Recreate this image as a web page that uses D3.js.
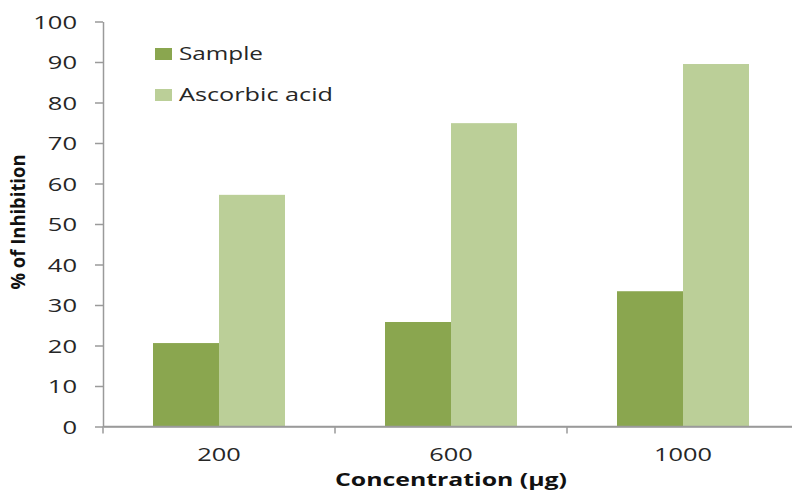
<!DOCTYPE html>
<html>
<head>
<meta charset="utf-8">
<script src="https://cdn.jsdelivr.net/npm/d3@7"></script>
<style>
  html, body { margin: 0; padding: 0; background: #fff; }
  svg { display: block; }
</style>
</head>
<body>
<svg id="chart" width="792" height="493"></svg>
<script>
const categories = ["200", "600", "1000"];
const seriesNames = ["Sample", "Ascorbic acid"];
const sampleValues = [20.6, 25.8, 33.4];
const ascorbicValues = [57.2, 74.9, 89.5];
const seriesColors = ["#8aa64f", "#bbcf98"];
const yTicks = [0, 10, 20, 30, 40, 50, 60, 70, 80, 90, 100];
const xTitle = "Concentration (µg)";
const yTitle = "% of Inhibition";

const seriesValues = [sampleValues, ascorbicValues];
const rows = categories.map((c, i) => ({
  category: c,
  values: seriesNames.map((s, j) => ({ series: s, value: seriesValues[j][i], color: seriesColors[j] }))
}));

const svg = d3.select("#chart");
const font = "'Open Sans', 'DejaVu Sans', sans-serif";
const axisColor = "#9a9a9a";
const textColor = "#262626";

const x = d3.scaleBand().domain(categories).range([103, 799]).paddingInner(0).paddingOuter(0);
const xInner = d3.scaleBand().domain(seriesNames).range([50, 182]);
const y = d3.scaleLinear().domain([0, 100]).range([426.5, 21.5]);

// Y axis
const yAxis = svg.append("g")
  .attr("transform", "translate(103,0)")
  .call(d3.axisLeft(y).tickValues(yTicks).tickSize(8).tickPadding(18).tickSizeOuter(0));
yAxis.select(".domain").attr("stroke", axisColor).attr("stroke-width", 1.5);
yAxis.selectAll(".tick line").attr("stroke", axisColor).attr("stroke-width", 1.5);
yAxis.selectAll(".tick text")
  .attr("fill", textColor)
  .attr("font-family", font)
  .attr("font-size", 19)
  .attr("dy", "0.36em")
  .attr("textLength", d => String(d).length * 14.6)
  .attr("lengthAdjust", "spacingAndGlyphs");

// X axis
const xAxis = svg.append("g")
  .attr("transform", `translate(0,${y(0)})`)
  .call(d3.axisBottom(x).tickSize(0).tickPadding(20).tickSizeOuter(0));
xAxis.select(".domain").attr("stroke", axisColor).attr("stroke-width", 1.5);
xAxis.selectAll(".tick text")
  .attr("fill", textColor)
  .attr("font-family", font)
  .attr("font-size", 19)
  .attr("dy", "0.75em")
  .attr("textLength", d => String(d).length * 14.5)
  .attr("lengthAdjust", "spacingAndGlyphs");

const boundaries = categories.map(c => x(c)).concat([x(categories[categories.length - 1]) + x.bandwidth()]);
xAxis.selectAll(".bound")
  .data(boundaries)
  .join("line")
  .attr("class", "bound")
  .attr("x1", d => d).attr("x2", d => d)
  .attr("y1", 0).attr("y2", 7)
  .attr("stroke", axisColor).attr("stroke-width", 1.5);

// Bars
const groups = svg.append("g").selectAll("g")
  .data(rows)
  .join("g")
  .attr("transform", d => `translate(${x(d.category)},0)`);
groups.selectAll("rect")
  .data(d => d.values)
  .join("rect")
  .attr("x", d => xInner(d.series))
  .attr("width", xInner.bandwidth())
  .attr("y", d => y(d.value))
  .attr("height", d => y(0) - y(d.value))
  .attr("fill", d => d.color);

// redraw baseline over bars
svg.append("line")
  .attr("x1", 103).attr("x2", 799)
  .attr("y1", y(0)).attr("y2", y(0))
  .attr("stroke", axisColor).attr("stroke-width", 1.5);

// Legend
const legendWidths = [84, 154];
const legend = svg.append("g").selectAll("g")
  .data(seriesNames)
  .join("g")
  .attr("transform", (d, i) => `translate(155,${48 + i * 41})`);
legend.append("rect")
  .attr("width", 17).attr("height", 12)
  .attr("fill", (d, i) => seriesColors[i]);
legend.append("text")
  .attr("x", 24).attr("y", 12)
  .attr("fill", textColor)
  .attr("font-family", font)
  .attr("font-size", 19)
  .attr("textLength", (d, i) => legendWidths[i])
  .attr("lengthAdjust", "spacingAndGlyphs")
  .text(d => d);

// Axis titles
svg.append("text")
  .attr("x", 451).attr("y", 486)
  .attr("text-anchor", "middle")
  .attr("fill", "#111")
  .attr("font-family", font)
  .attr("font-weight", "bold")
  .attr("font-size", 18)
  .attr("textLength", 232)
  .attr("lengthAdjust", "spacingAndGlyphs")
  .text(xTitle);

svg.append("text")
  .attr("transform", "translate(25,222) rotate(-90)")
  .attr("text-anchor", "middle")
  .attr("fill", "#111")
  .attr("font-family", font)
  .attr("font-weight", "bold")
  .attr("font-size", 19)
  .attr("textLength", 135)
  .attr("lengthAdjust", "spacingAndGlyphs")
  .text(yTitle);
</script>
</body>
</html>
